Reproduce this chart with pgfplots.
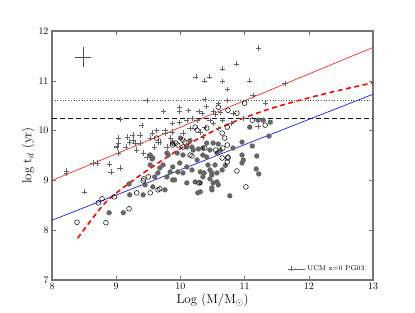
\documentclass[border=0pt]{standalone}
\usepackage{pgfplots}
\pgfplotsset{compat=1.18}
\usetikzlibrary{calc}
\begin{document}
\begin{tikzpicture}
\begin{axis}[
  scale only axis, width=321bp, height=249bp,
  xmin=8, xmax=13, ymin=7, ymax=12,
  xtick={8,9,10,11,12,13}, ytick={7,8,9,10,11,12},
  minor tick num=0,
  tick align=inside, ticks=major,
  major tick length=4bp,
  axis line style={black!55, line width=1.1pt},
  every tick/.style={black!55, line width=0.6pt},
  tick label style={font=\fontsize{10}{11}\selectfont},
  xlabel={Log (M/M$_\odot$)}, ylabel={log t$_d$ (yr)},
  label style={font=\fontsize{13}{15}\selectfont},
  xlabel style={yshift=3bp},
  ylabel style={yshift=-3bp},
  legend style={draw=none, fill=none, at={(0.99,0.015)}, anchor=south east, font=\fontsize{7}{8}\selectfont},
  legend cell align=left,
  legend image code/.code={\draw[#1] plot coordinates {(0cm,0cm)}; \path (0cm,0cm) -- (0.5cm,0cm);},
  clip=false,
]
% UCM z=0 PG03 (crosses)
\addplot[only marks, mark=+, mark size=2.6bp, draw=black!60, line width=0.6pt] coordinates {
(9.48,10.61) (9.74,10.39) (9.06,10.23) (9.40,10.11) (10.24,11.08) (10.37,11.00) (10.45,11.08)
(10.38,10.63) (9.99,10.47) (9.98,10.39) (10.12,10.41) (10.29,10.39) (10.34,10.35) (10.51,10.39)
(10.55,10.33) (9.88,10.15) (9.76,10.01) (9.63,10.01) (9.57,9.95) (9.37,9.91) (9.26,9.91)
(9.18,9.87) (9.03,9.85) (9.03,9.75) (9.01,9.67) (9.26,9.81) (9.29,9.75) (9.37,9.75) (9.53,9.85)
(9.76,9.95) (9.87,9.97) (9.99,10.17) (10.10,10.21) (10.18,10.25) (10.26,10.21) (10.46,10.21)
(10.38,10.07) (10.04,9.95) (10.15,10.05) (10.31,9.97) (9.84,9.85) (9.68,9.77) (9.88,9.77)
(8.23,9.15) (8.23,9.19) (8.50,8.77) (8.64,9.35) (8.70,9.35) (8.89,9.33) (8.92,9.17) (9.06,9.25)
(9.03,9.55) (9.01,9.69) (9.15,9.67) (9.21,9.77) (9.32,9.61) (9.42,9.55) (9.48,9.47) (9.60,9.67)
(9.65,9.77) (9.79,9.67) (11.22,11.66) (10.87,11.34) (10.65,11.24) (11.08,11.00) (10.65,10.98)
(10.73,10.82) (11.63,10.94) (11.13,10.71) (10.73,10.61) (10.59,10.55) (10.41,10.49) (11.32,10.55)
(10.62,10.37) (10.82,10.35) (10.98,10.25) (10.66,10.21) (10.51,10.15) (10.59,10.05) (10.80,10.15)
(11.21,10.09) (10.35,9.87)
};
\addlegendentry{UCM z=0 PG03}
% filled circles
\addplot[only marks, mark=*, mark size=2.4bp, draw=black!60, fill=black!60, forget plot] coordinates {
(8.89,8.35) (9.11,8.35) (9.20,8.93) (9.21,8.71) (9.42,8.71) (9.45,8.91) (9.53,9.31) (9.57,8.87)
(9.60,9.07) (9.65,9.15) (9.68,9.25) (9.73,9.31) (9.76,8.81) (9.79,9.07) (9.84,9.17) (9.88,9.27)
(9.91,9.01) (9.96,9.17) (9.99,9.35) (10.04,9.15) (10.10,9.27) (10.10,8.95) (10.18,9.21)
(10.23,8.97) (10.26,9.41) (10.27,8.75) (10.31,9.17) (10.35,9.07) (10.41,9.47) (10.46,9.21)
(10.51,8.95) (10.54,9.31) (10.57,9.15) (10.10,9.67) (10.20,9.61) (10.35,9.65) (10.46,9.61)
(9.53,9.51) (9.81,9.51) (9.95,9.55) (10.04,9.51) (10.51,9.75) (10.59,9.73) (10.96,9.77)
(11.12,9.69) (10.96,9.51) (11.19,9.49) (10.98,9.41) (10.96,9.35) (10.57,9.55) (10.35,9.51)
(10.43,9.31) (10.37,9.15) (10.49,9.15) (10.46,9.03) (10.49,8.85) (10.57,8.97) (10.59,8.91)
(10.65,9.21) (10.77,8.69) (11.18,9.23) (11.22,9.13) (10.31,8.95) (10.31,8.77) (11.08,10.07)
(11.21,10.21) (11.29,10.21) (11.40,10.17) (11.38,9.89) (10.82,9.65) (9.57,9.45) (9.79,9.55)
(10.18,9.67) (10.28,9.63) (10.41,9.75) (10.00,9.85) (10.15,9.80) (9.56,9.43) (9.88,9.01)
(10.49,8.81) (10.49,9.11) (10.62,9.60) (10.70,9.30)
};
% open circles
\addplot[only marks, mark=o, mark size=2.4bp, draw=black, line width=0.5pt, forget plot] coordinates {
(8.39,8.16) (8.72,8.55) (8.78,8.63) (8.84,8.15) (8.97,8.67) (9.20,8.43) (9.32,8.75) (9.42,8.99)
(9.50,9.07) (9.53,8.75) (9.65,8.81) (9.88,9.71) (9.93,9.75) (9.96,9.71) (10.07,9.77) (10.29,8.95)
(10.18,9.49) (10.38,9.65) (10.55,9.61) (10.73,9.71) (10.65,9.45) (10.74,9.45) (10.73,9.37)
(10.88,9.19) (11.02,8.87) (9.63,9.85) (9.88,9.75) (10.04,9.81) (10.23,10.07) (10.26,10.01)
(10.41,10.05) (11.00,10.55) (10.88,10.35) (11.12,10.21) (11.32,10.11) (10.73,10.07) (10.65,9.95)
(10.69,9.85) (10.59,10.47) (10.74,10.41) (10.66,9.65) (10.74,9.47) (9.43,9.03) (9.68,8.83)
(10.04,9.67) (10.15,9.51)
};
% error cross
\addplot[black!70, line width=0.7pt, mark=none, forget plot,
  error bars/.cd, x dir=both, y dir=both, x explicit, y explicit,
  error bar style={black!70, line width=0.7pt}, error mark options={black!70, line width=0.7pt, mark size=2.2bp}]
  coordinates {(8.49,11.48) +- (0.09,0.16)};
% horizontal reference lines
\addplot[black!70, dotted, line width=0.7pt, forget plot] coordinates {(8,10.60) (13,10.60)};
\addplot[black, dash pattern=on 5bp off 3bp, line width=0.8pt, forget plot] coordinates {(8,10.25) (13,10.25)};
% fits
\addplot[red!85!white, line width=0.7pt, forget plot] coordinates {(8,9.0) (13,11.67)};
\addplot[blue!90!white, line width=0.7pt, forget plot] coordinates {(8,8.2) (13,10.73)};
\addplot[red, line width=1.6pt, dash pattern=on 5bp off 3.5bp, smooth, forget plot] coordinates {
(8.40,7.84) (8.65,8.27) (8.90,8.64) (9.37,9.10) (9.89,9.55) (10.10,9.71) (10.40,9.92)
(10.82,10.17) (11.35,10.42) (11.86,10.61) (12.38,10.78) (13.00,10.96)};
\end{axis}
\path ($(current axis.south west)+(-52bp,-32bp)$) rectangle ($(current axis.north east)+(42bp,31bp)$);
\end{tikzpicture}
\end{document}
